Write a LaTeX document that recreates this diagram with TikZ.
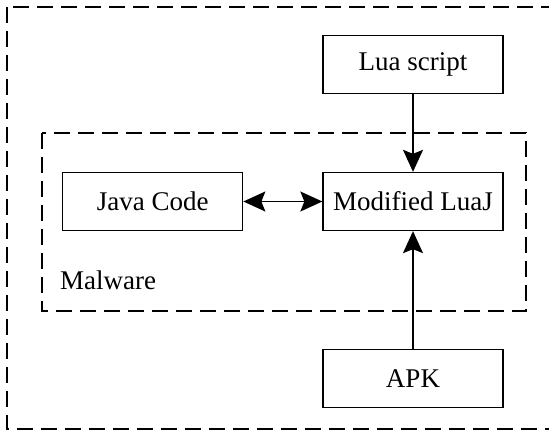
\documentclass[tikz,border=0pt]{standalone}
\usepackage{fontspec}
\setmainfont{Liberation Serif}
\usetikzlibrary{arrows.meta,positioning}

\begin{document}
\begin{tikzpicture}[x=1pt,y=-1pt,node distance=78pt,
 >={Stealth[length=22pt,width=20pt,inset=4pt]},
 block/.style={draw,line width=1.3pt,minimum width=180pt,minimum height=58pt,inner sep=0pt,font=\fontsize{27}{30}\selectfont},
 region/.style={draw,line width=2pt,dash pattern=on 16pt off 8pt},
 link/.style={line width=1.4pt}]
\useasboundingbox (0,0) rectangle (549,430);
% outer and malware frames
\draw[region] (7,7) rectangle (556,429);
\draw[region] (42,133) rectangle (526,311);
\node[block] (luaj) at (413,201.5) {Modified LuaJ};
\node[block,above=of luaj] (lua) {Lua script};
\node[block,below=118pt of luaj] (apk) {APK};
\node[block,left=79pt of luaj] (java) {Java Code};
\node[anchor=base west,inner sep=0pt,font=\fontsize{27}{30}\selectfont] (malware) at (60,290) {Malware};
\draw[link,->] (lua) -- (luaj);
\draw[link,->] (apk) -- (luaj);
\draw[link,<->] (java) -- (luaj);
\end{tikzpicture}
\end{document}
